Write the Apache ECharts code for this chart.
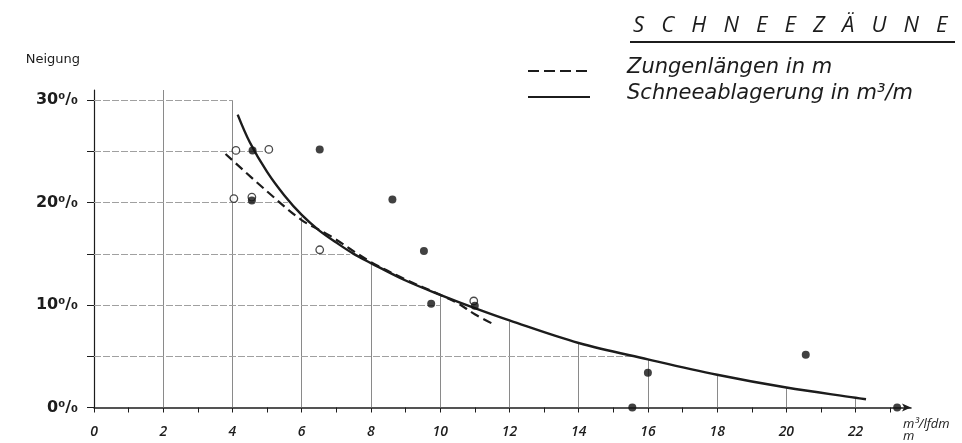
<!DOCTYPE html>
<html>
<head>
<meta charset="utf-8">
<script src="https://cdn.jsdelivr.net/npm/echarts@6/dist/echarts.min.js"></script>
<style>
html,body{margin:0;padding:0;background:#fff;}
#c{width:962px;height:443px;}
</style>
</head>
<body>
<div id="c"></div>
<script>
// ---- data ----
const titleText = 'S   C   H   N   E   E   Z   Ä   U   N   E';
const seriesNames = ['Zungenlängen in m', 'Schneeablagerung in m³/m'];
const yAxisName = 'Neigung';
const xAxisName = 'm³/lfdm\nm';

// x ticks (m³/lfdm) and labels
const xTickValues = [0,1,2,3,4,5,6,7,8,9,10,11,12,13,14,15,16,17,18,19,20,21,22,23];
const xLabelValues = [0,2,4,6,8,10,12,14,16,18,20,22];
// y ticks (Neigung %) and labels
const yTickValues = [0,5,10,15,20,25,30];
const yLabelValues = [0,10,20,30];

// Schneeablagerung curve (solid)
const solidX = [4.15,4.5,5,5.5,6,6.5,7,7.5,8,9,10,11,12,14,16,18,20,22,22.3];
const solidY = [28.6,25.9,23.0,20.7,18.8,17.3,16.1,15.0,14.1,12.4,11.0,9.7,8.5,6.3,4.7,3.2,1.95,0.95,0.8];

// Zungenlängen curve (dashed)
const dashX = [3.8,5,6,6.8,8,9,10,10.5,11,11.5];
const dashY = [24.75,21.1,18.3,16.8,14.2,12.5,11.0,10.2,9.1,8.2];

// measured points: open circles
const openX = [4.1,5.05,4.04,4.56,6.52,10.97];
const openY = [25.1,25.2,20.4,20.55,15.4,10.4];
// measured points: filled dots
const filledX = [4.58,6.52,4.56,8.62,9.53,9.74,11.0,15.55,16.0,20.56,23.2];
const filledY = [25.1,25.2,20.2,20.3,15.27,10.13,9.94,0,3.4,5.15,0];

// grid lines drawn only up to the curve
const vGridX   = [2,4,6,8,10,12,14,16,18,20,22];
const vGridTop = [31,30,18.6,14.1,11.0,8.4,6.2,4.7,3.1,1.9,0.9];
const hGridY     = [5,10,15,20,25,30];
const hGridRight = [15.6,10.0,7.4,5.6,5.0,4.0];

// ---- build ----
const zip = (a,b) => a.map((v,i) => [v,b[i]]);
const vLines = vGridX.map((x,i) => ({coords:[[x,0],[x,vGridTop[i]]]}));
const hLines = hGridY.map((y,i) => ({coords:[[0,y],[hGridRight[i],y]]}));

const ink = '#1c1c1c';
const legendFont = {fontFamily:'DejaVu Sans', fontStyle:'italic', fontSize:21, fill:ink};
const chart = echarts.init(document.getElementById('c'), null, {renderer:'canvas'});
chart.setOption({
  backgroundColor:'#ffffff',
  animation:false,
  title:{
    text:titleText,
    left:628, top:10,
    textStyle:{fontFamily:'Open Sans', fontStyle:'italic', fontWeight:'normal', fontSize:22, color:ink}
  },
  graphic:[
    {type:'line', shape:{x1:630,y1:42,x2:955,y2:42}, style:{stroke:ink, lineWidth:2}},
    {type:'line', shape:{x1:528,y1:71,x2:590,y2:71}, style:{stroke:ink, lineWidth:2, lineDash:[11,5]}},
    {type:'text', left:627, top:57, style:Object.assign({text:seriesNames[0]}, legendFont)},
    {type:'line', shape:{x1:528,y1:97,x2:590,y2:97}, style:{stroke:ink, lineWidth:2}},
    {type:'text', left:627, top:83, style:Object.assign({text:seriesNames[1]}, legendFont)}
  ],
  grid:{left:94, right:51, top:90, bottom:33},
  xAxis:{
    type:'value', min:0, max:23.6,
    name:xAxisName, nameLocation:'end', nameGap:-8,
    nameTextStyle:{fontFamily:'Open Sans', fontStyle:'italic', fontSize:13, color:ink, align:'left', verticalAlign:'top', lineHeight:12, padding:[11,0,0,0]},
    axisLine:{show:true, symbol:['none','arrow'], symbolSize:[6,9], lineStyle:{color:ink, width:1.5}},
    axisTick:{show:true, customValues:xTickValues, length:5, lineStyle:{color:ink, width:1}},
    axisLabel:{customValues:xLabelValues, margin:18, fontFamily:'Open Sans', fontStyle:'italic', fontWeight:600, fontSize:14, color:ink},
    splitLine:{show:false}
  },
  yAxis:{
    type:'value', min:0, max:31,
    name:yAxisName, nameLocation:'end', nameGap:24,
    nameTextStyle:{fontFamily:'DejaVu Sans', fontSize:13, color:ink, align:'right', padding:[0,14,0,0]},
    axisLine:{show:true, lineStyle:{color:ink, width:1.2}},
    axisTick:{show:true, customValues:yTickValues, length:7, lineStyle:{color:ink, width:1}},
    axisLabel:{customValues:yLabelValues, margin:16, fontFamily:'DejaVu Sans', fontWeight:600, fontSize:16, color:ink, padding:[8,0,0,0],
      formatter:v => v + '⁰/₀'},
    splitLine:{show:false}
  },
  series:[
    {type:'lines', coordinateSystem:'cartesian2d', silent:true, z:1, data:vLines,
     lineStyle:{color:'#8a8a8a', width:1, opacity:1}},
    {type:'lines', coordinateSystem:'cartesian2d', silent:true, z:1, data:hLines,
     lineStyle:{color:'#a0a0a0', width:1, opacity:1, type:[7,2]}},
    {name:seriesNames[0], type:'line', data:zip(dashX,dashY), smooth:0.35, showSymbol:false, symbol:'none', z:3,
     lineStyle:{color:ink, width:2.2, type:[9,5]}, itemStyle:{color:ink}},
    {name:seriesNames[1], type:'line', data:zip(solidX,solidY), smooth:0.35, showSymbol:false, symbol:'none', z:3,
     lineStyle:{color:ink, width:2.4}, itemStyle:{color:ink}},
    {type:'scatter', data:zip(openX,openY), symbol:'circle', symbolSize:7.5, clip:false, z:4,
     itemStyle:{color:'#ffffff', borderColor:ink, borderWidth:1.3}},
    {type:'scatter', data:zip(filledX,filledY), symbol:'circle', symbolSize:8, clip:false, z:5,
     itemStyle:{color:'#111'}}
  ]
});
</script>
</body>
</html>
